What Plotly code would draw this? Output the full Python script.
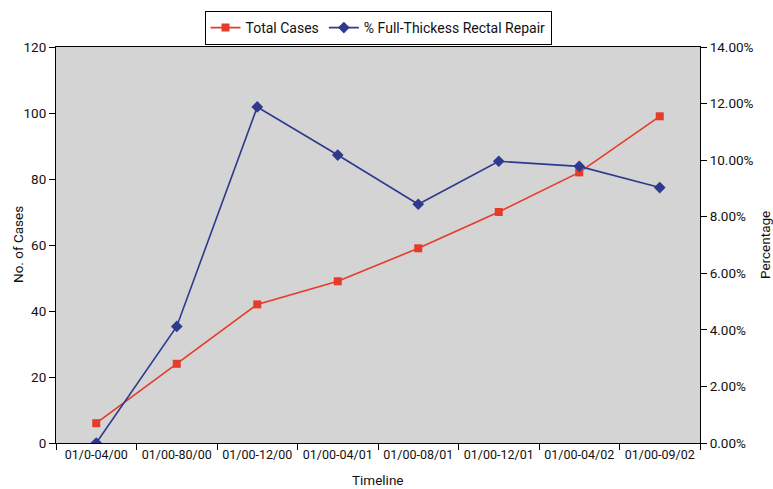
import plotly.graph_objects as go

# Reporting periods
periods = ["01/0-04/00", "01/00-80/00", "01/00-12/00", "01/00-04/01",
           "01/00-08/01", "01/00-12/01", "01/00-04/02", "01/00-09/02"]

# Cumulative number of cases per period
total_cases = [6, 24, 42, 49, 59, 70, 82, 99]

# Share of full-thickness rectal repairs (fraction)
full_thickness_pct = [0.0, 0.0412, 0.1188, 0.1018, 0.0844, 0.0996, 0.0978, 0.0903]

left_ticks = [0, 20, 40, 60, 80, 100, 120]
right_ticks = [0, 0.02, 0.04, 0.06, 0.08, 0.10, 0.12, 0.14]

FONT = "Roboto, sans-serif"
RED = "#E63B2B"
BLUE = "#2E3A8E"

W, H = 773, 489
M_L, M_R, M_T, M_B = 56, 73, 47, 46
plot_w = W - M_L - M_R
plot_h = H - M_T - M_B

fig = go.Figure()
fig.add_trace(go.Scatter(
    x=periods, y=total_cases, name="Total Cases", mode="lines+markers",
    line=dict(color=RED, width=1.6),
    marker=dict(symbol="square", size=8, color=RED),
))
fig.add_trace(go.Scatter(
    x=periods, y=full_thickness_pct, name="% Full-Thickess Rectal Repair",
    mode="lines+markers", yaxis="y2",
    line=dict(color=BLUE, width=1.6),
    marker=dict(symbol="diamond", size=9, color=BLUE),
))

axis_font = dict(family=FONT, size=13.5, color="#111")
xtick_font = dict(family=FONT, size=12.5, color="#111")

fig.update_layout(
    width=W, height=H,
    margin=dict(l=M_L, r=M_R, t=M_T, b=M_B),
    paper_bgcolor="white",
    plot_bgcolor="#D4D4D4",
    font=axis_font,
    showlegend=True,
    legend=dict(
        orientation="h", x=0.5, xanchor="center", y=1 - 11 / H, yanchor="top",
        yref="container", bgcolor="white", bordercolor="black", borderwidth=1,
        font=dict(family=FONT, size=14, color="#111"),
        traceorder="normal",
    ),
    xaxis=dict(
        type="category", range=[-0.5, 7.5], automargin=False,
        showline=True, linecolor="black", linewidth=1, mirror=True,
        ticks="outside", ticklen=6, tickcolor="black", tickson="boundaries",
        tickangle=0,
        showgrid=False, zeroline=False,
        tickfont=xtick_font,
    ),
    yaxis=dict(
        range=[0, 120], tickvals=left_ticks, automargin=False,
        showline=True, linecolor="black", linewidth=1,
        ticks="outside", ticklen=6, tickcolor="black",
        showgrid=False, zeroline=False,
        tickfont=axis_font,
    ),
    yaxis2=dict(
        overlaying="y", side="right", range=[0, 0.14], tickvals=right_ticks,
        tickformat=".2%", automargin=False,
        showline=True, linecolor="black", linewidth=1,
        ticks="outside", ticklen=6, tickcolor="black",
        showgrid=False, zeroline=False,
        tickfont=axis_font,
    ),
    # Axis titles placed at fixed page offsets from the plot area
    annotations=[
        dict(text="Timeline", x=0.5, y=-37 / plot_h, xref="paper", yref="paper",
             yanchor="middle", showarrow=False, font=axis_font),
        dict(text="No. of Cases", x=-38 / plot_w, y=0.5, xref="paper", yref="paper",
             xanchor="center", showarrow=False, textangle=-90, font=axis_font),
        dict(text="Percentage", x=(plot_w + 65) / plot_w, y=0.5, xref="paper",
             yref="paper", xanchor="center", showarrow=False, textangle=-90,
             font=axis_font),
    ],
)

fig.write_html("out.html")
